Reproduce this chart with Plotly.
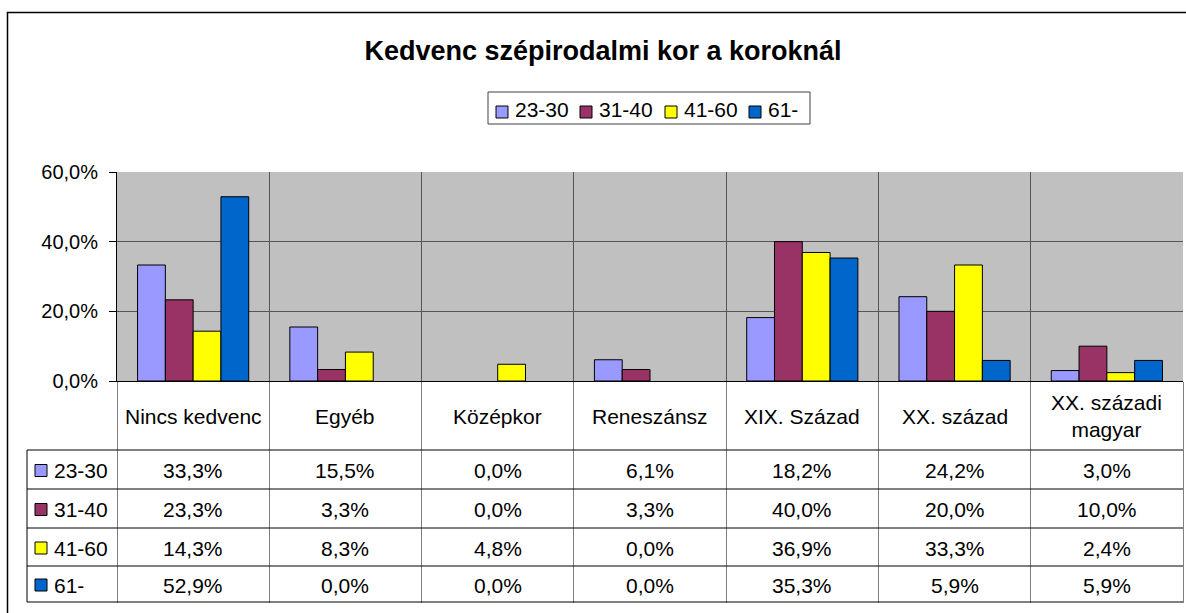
import plotly.graph_objects as go

categories = ["Nincs kedvenc", "Egyéb", "Középkor", "Reneszánsz", "XIX. Század", "XX. század", "XX. századi<br>magyar"]
series_names = ["23-30", "31-40", "41-60", "61-"]
v_23_30 = [33.3, 15.5, 0.0, 6.1, 18.2, 24.2, 3.0]
v_31_40 = [23.3, 3.3, 0.0, 3.3, 40.0, 20.0, 10.0]
v_41_60 = [14.3, 8.3, 4.8, 0.0, 36.9, 33.3, 2.4]
v_61 = [52.9, 0.0, 0.0, 0.0, 35.3, 5.9, 5.9]
series_values = [v_23_30, v_31_40, v_41_60, v_61]
colors = ["#9999FF", "#993366", "#FFFF00", "#0066CC"]
y_ticks = [0, 20, 40, 60]
title_text = "Kedvenc szépirodalmi kor a koroknál"

W, H = 1186, 613
PL, PR, PT, PB = 117, 1183, 172, 381  # plot area in pixels
FONT = "Arial, Liberation Sans, sans-serif"
FS = 21


def fmt(v):
    return f"{v:.1f}%".replace(".", ",")


def px_x(p):
    return (p - PL) / (PR - PL)


def px_y(p):
    return (PB - p) / (PB - PT)


fig = go.Figure()
for name, vals, col in zip(series_names, series_values, colors):
    fig.add_trace(go.Bar(
        x=list(range(len(categories))), y=vals, name=name,
        marker=dict(color=col, line=dict(color="black", width=[1 if v > 0 else 0 for v in vals])),
        hoverinfo="skip", showlegend=False,
    ))

shapes = []
annotations = []

# table geometry (pixel rows)
row_edges = [450, 489, 528, 566, 602]
table_left = 27

for yy in row_edges:
    shapes.append(dict(type="line", xref="paper", yref="paper",
                       x0=px_x(table_left), x1=1, y0=px_y(yy), y1=px_y(yy),
                       line=dict(color="black", width=1)))
shapes.append(dict(type="line", xref="paper", yref="paper",
                   x0=px_x(table_left), x1=px_x(table_left),
                   y0=px_y(row_edges[0]), y1=px_y(row_edges[-1]),
                   line=dict(color="black", width=1)))
# outer chart border (left + top)
shapes.append(dict(type="path", xref="paper", yref="paper",
                   path=f"M {px_x(7.5)},{px_y(640)} L {px_x(7.5)},{px_y(12.5)} L {px_x(1200)},{px_y(12.5)}",
                   line=dict(color="black", width=1.5)))

# category header labels
for i, c in enumerate(categories):
    annotations.append(dict(x=i, xref="x", y=px_y(416), yref="paper", text=c,
                            showarrow=False, font=dict(family=FONT, size=FS, color="black"),
                            xanchor="center", yanchor="middle"))

# row labels and values
for r, (name, vals, col) in enumerate(zip(series_names, series_values, colors)):
    yc = (row_edges[r] + row_edges[r + 1]) / 2
    shapes.append(dict(type="rect", xref="paper", yref="paper",
                       x0=px_x(35), x1=px_x(47), y0=px_y(yc + 7), y1=px_y(yc - 5),
                       fillcolor=col, line=dict(color="black", width=1)))
    annotations.append(dict(x=px_x(52), xref="paper", y=px_y(yc + 1), yref="paper", text=name,
                            showarrow=False, font=dict(family=FONT, size=FS, color="black"),
                            xanchor="left", yanchor="middle"))
    for i, v in enumerate(vals):
        annotations.append(dict(x=i, xref="x", y=px_y(yc + 1), yref="paper",
                                text=fmt(v),
                                showarrow=False, font=dict(family=FONT, size=FS, color="black"),
                                xanchor="center", yanchor="middle"))

# legend box (drawn like the original)
leg_x0, leg_x1, leg_y0, leg_y1 = 488, 810, 92, 124
shapes.append(dict(type="rect", xref="paper", yref="paper",
                   x0=px_x(leg_x0), x1=px_x(leg_x1), y0=px_y(leg_y1), y1=px_y(leg_y0),
                   fillcolor="white", line=dict(color="#404040", width=1)))
leg_sq = [496, 580, 665, 749]
for name, col, sx in zip(series_names, colors, leg_sq):
    shapes.append(dict(type="rect", xref="paper", yref="paper",
                       x0=px_x(sx), x1=px_x(sx + 12), y0=px_y(118), y1=px_y(106),
                       fillcolor=col, line=dict(color="black", width=1)))
    annotations.append(dict(x=px_x(sx + 17), xref="paper", y=px_y(109), yref="paper", text=name,
                            showarrow=False, font=dict(family=FONT, size=FS, color="black"),
                            xanchor="left", yanchor="middle"))

fig.update_layout(
    width=W, height=H,
    margin=dict(l=PL, r=W - PR, t=PT, b=H - PB, pad=0),
    paper_bgcolor="white", plot_bgcolor="#C0C0C0",
    barmode="group", bargap=0.27, bargroupgap=0,
    title=dict(text=f"<b>{title_text}</b>", x=603 / W, xref="container", xanchor="center",
               y=1 - 51 / H, yref="container", yanchor="middle",
               font=dict(family=FONT, size=27, color="black")),
    shapes=shapes, annotations=annotations,
    showlegend=False,
)
fig.update_xaxes(
    type="linear", range=[-0.5, len(categories) - 0.5],
    tickmode="array", tickvals=[i - 0.5 for i in range(len(categories) + 1)],
    showticklabels=False, ticks="outside", ticklen=row_edges[-1] - PB, tickcolor="#808080",
    tickwidth=1, showgrid=True, gridcolor="#555555", gridwidth=1.2,
    showline=True, linecolor="black", linewidth=1, zeroline=False, fixedrange=True,
)
fig.update_yaxes(
    range=[0, 60], tickmode="array", tickvals=y_ticks, ticktext=[fmt(t) for t in y_ticks],
    ticks="outside", ticklen=7, tickcolor="black",
    showgrid=True, gridcolor="#555555", gridwidth=1.2,
    showline=True, linecolor="black", linewidth=1, zeroline=False,
    tickfont=dict(family=FONT, size=20, color="black"), ticklabelstandoff=7,
    fixedrange=True,
)

fig.write_html("out.html", config={"displayModeBar": False},
               post_script="document.body.style.margin='0';")
